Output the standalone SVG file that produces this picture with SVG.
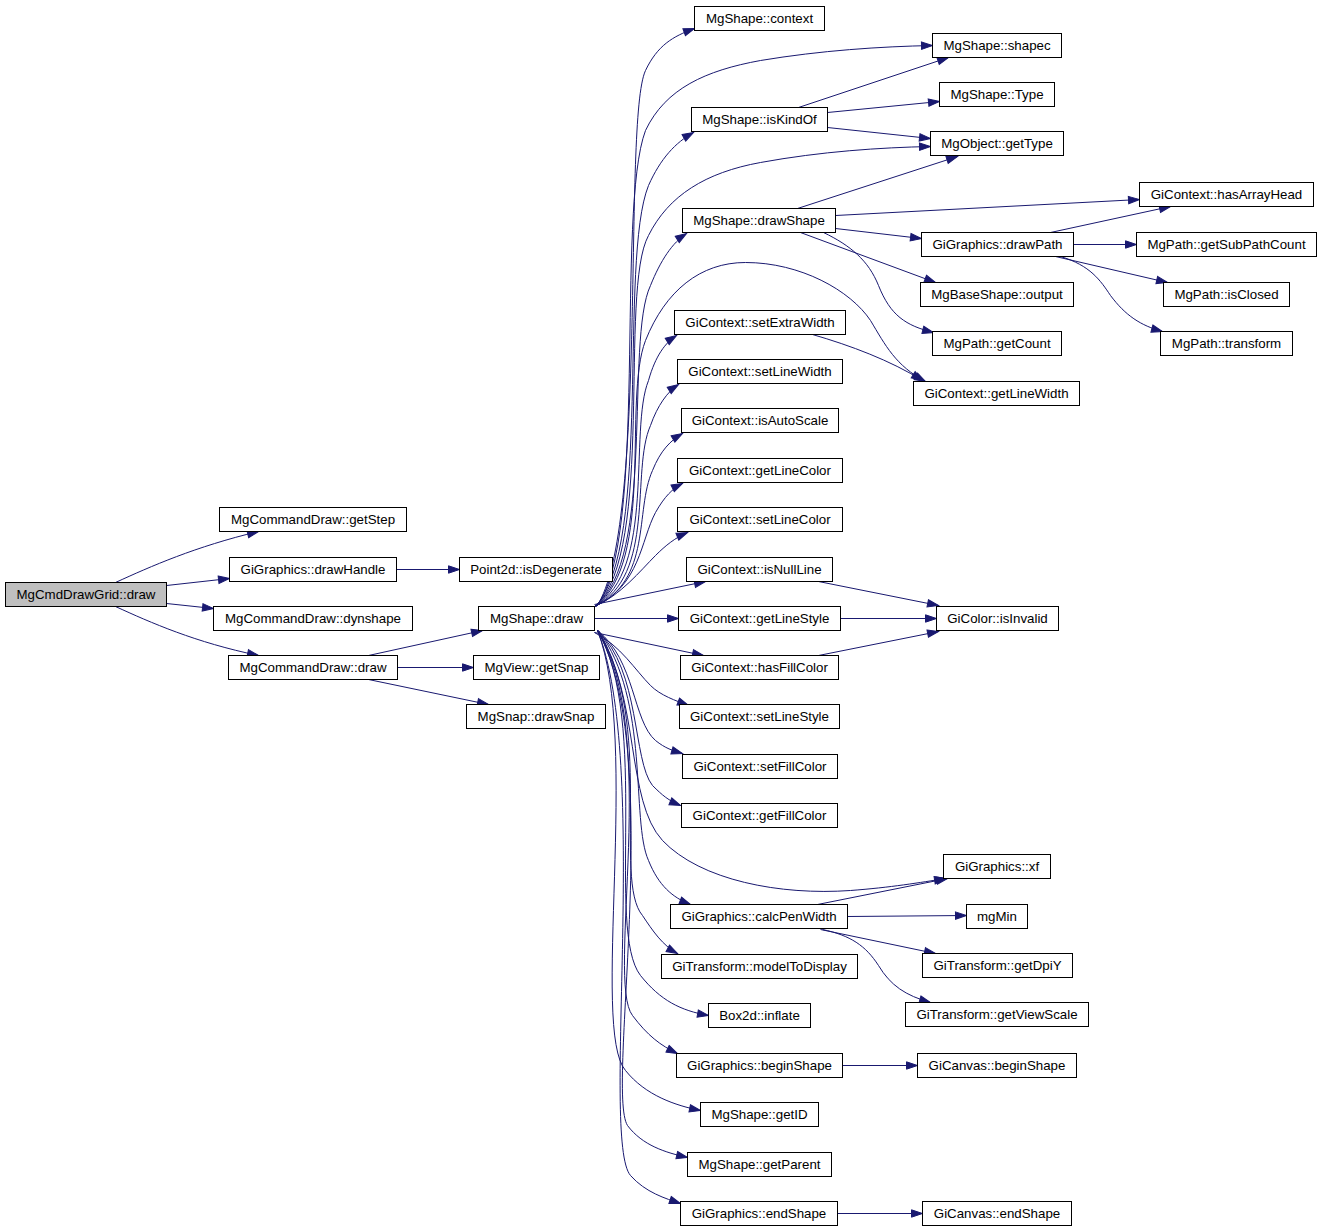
<svg xmlns="http://www.w3.org/2000/svg" width="1322" height="1231" viewBox="0 0 1322 1231">
<style>
.n rect{fill:#ffffff;stroke:#000000;stroke-width:1}
.n text{font-family:"Liberation Sans",Arial,Helvetica,sans-serif;font-size:13.3px;text-anchor:middle;fill:#000000}
#n0 rect{fill:#bfbfbf}
.e path{fill:none;stroke:#191970;stroke-width:1;marker-end:url(#a)}
</style>
<defs>
<marker id="a" markerUnits="userSpaceOnUse" viewBox="0 0 11 8" markerWidth="11" markerHeight="8" refX="11" refY="4" orient="auto" overflow="visible">
<path d="M0,0.3 L11,4 L0,7.7 Z" fill="#191970" stroke="#191970" stroke-width="1"/>
</marker>
</defs>
<rect width="1322" height="1231" fill="#ffffff"/>
<g transform="translate(0.5,0.5)">
<g id="edges" class="e">
<path d="M115,582 C150,566 195,546 258,531"/>
<path d="M166,585 L229,578"/>
<path d="M166,603 L213,608"/>
<path d="M115,606 C150,622 195,642 258,655"/>
<path d="M396,569 L459,569"/>
<path d="M368,655 L482,630"/>
<path d="M397,667 L473,667"/>
<path d="M368,679 L488,704"/>
<path d="M596,606 C648,530 622,120 645,70 C657,45 672,36 694,28"/>
<path d="M596,606 C648,540 615,210 645,130 C665,88 705,70 760,60 C820,50 880,46 932,45"/>
<path d="M595,606 C652,545 618,260 648,185 C660,158 675,142 693,132"/>
<path d="M595,606 C655,550 618,290 648,235 C668,195 705,172 760,162 C820,151 880,147 930,146"/>
<path d="M594,606 C656,560 624,340 650,285 C660,260 672,242 686,233"/>
<path d="M595,606 C655,560 622,400 645,340 C665,290 700,262 745,262 C800,262 850,290 870,320 C885,345 895,365 925,381"/>
<path d="M594,606 C656,570 628,430 648,380 C655,355 665,342 676,335"/>
<path d="M594,606 C656,575 630,470 650,425 C657,405 667,391 678,384"/>
<path d="M594,606 C652,580 634,510 652,470 C660,450 670,440 682,433"/>
<path d="M594,606 C640,585 640,540 655,512 C664,496 672,488 682,483"/>
<path d="M594,606 C620,595 640,570 655,555 C665,545 675,537 687,532"/>
<path d="M594,604 L705,581"/>
<path d="M594,618 L678,618"/>
<path d="M594,632 L703,655"/>
<path d="M594,632 C620,645 635,670 650,685 C660,695 675,700 688,705"/>
<path d="M597,630 C635,660 632,720 655,740 C665,748 672,750 682,753"/>
<path d="M597,630 C640,670 632,760 652,785 C662,795 668,800 680,805"/>
<path d="M598,630 C640,700 625,800 662,840 C700,880 780,895 850,890 C890,887 920,882 945,878"/>
<path d="M598,630 C650,700 630,820 648,860 C658,885 672,897 690,904"/>
<path d="M597,630 C655,720 612,880 642,915 C652,930 662,945 677,953"/>
<path d="M597,630 C650,720 605,930 640,975 C660,1000 680,1010 708,1015"/>
<path d="M597,630 C660,730 605,980 632,1015 C647,1035 660,1045 677,1053"/>
<path d="M597,630 C640,740 590,1030 625,1070 C645,1095 675,1105 700,1110"/>
<path d="M597,630 C665,750 605,1090 627,1125 C642,1145 665,1152 687,1157"/>
<path d="M597,630 C650,760 600,1140 630,1175 C645,1192 665,1198 680,1203"/>
<path d="M798,107 L948,57"/>
<path d="M827,112 L939,101"/>
<path d="M827,127 L930,138"/>
<path d="M797,208 L957,156"/>
<path d="M835,215 L1139,199"/>
<path d="M835,228 L921,238"/>
<path d="M800,232 L935,282"/>
<path d="M823,232 C850,245 868,260 878,285 C890,315 905,325 933,332"/>
<path d="M1050,232 L1170,206"/>
<path d="M1073,244 L1136,244"/>
<path d="M1055,256 L1167,282"/>
<path d="M1060,256 C1090,265 1100,280 1110,295 C1125,315 1140,325 1162,331"/>
<path d="M812,334 C850,345 890,360 922,380"/>
<path d="M818,581 L938,605"/>
<path d="M840,618 L936,618"/>
<path d="M818,655 L938,631"/>
<path d="M817,904 L947,878"/>
<path d="M847,916 L966,915"/>
<path d="M820,929 L935,953"/>
<path d="M822,929 C850,935 865,945 878,965 C890,985 905,995 930,1002"/>
<path d="M842,1065 L917,1065"/>
<path d="M837,1213 L922,1213"/>
</g>
<g id="n0" class="n"><rect x="5" y="582" width="161" height="24"/><text x="85.5" y="598.5">MgCmdDrawGrid::draw</text></g>
<g id="n1" class="n"><rect x="219" y="507" width="187" height="24"/><text x="312.5" y="523.5">MgCommandDraw::getStep</text></g>
<g id="n2" class="n"><rect x="229" y="557" width="167" height="24"/><text x="312.5" y="573.5">GiGraphics::drawHandle</text></g>
<g id="n3" class="n"><rect x="213" y="606" width="199" height="24"/><text x="312.5" y="622.5">MgCommandDraw::dynshape</text></g>
<g id="n4" class="n"><rect x="228" y="655" width="169" height="24"/><text x="312.5" y="671.5">MgCommandDraw::draw</text></g>
<g id="n5" class="n"><rect x="459" y="557" width="153" height="24"/><text x="535.5" y="573.5">Point2d::isDegenerate</text></g>
<g id="n6" class="n"><rect x="478" y="606" width="116" height="24"/><text x="536" y="622.5">MgShape::draw</text></g>
<g id="n7" class="n"><rect x="473" y="655" width="126" height="24"/><text x="536" y="671.5">MgView::getSnap</text></g>
<g id="n8" class="n"><rect x="466" y="704" width="139" height="24"/><text x="535.5" y="720.5">MgSnap::drawSnap</text></g>
<g id="n9" class="n"><rect x="694" y="6" width="130" height="24"/><text x="759" y="22.5">MgShape::context</text></g>
<g id="n10" class="n"><rect x="932" y="33" width="129" height="24"/><text x="996.5" y="49.5">MgShape::shapec</text></g>
<g id="n11" class="n"><rect x="939" y="82" width="115" height="24"/><text x="996.5" y="98.5">MgShape::Type</text></g>
<g id="n12" class="n"><rect x="691" y="107" width="136" height="24"/><text x="759" y="123.5">MgShape::isKindOf</text></g>
<g id="n13" class="n"><rect x="930" y="131" width="133" height="24"/><text x="996.5" y="147.5">MgObject::getType</text></g>
<g id="n14" class="n"><rect x="682" y="208" width="153" height="24"/><text x="758.5" y="224.5">MgShape::drawShape</text></g>
<g id="n15" class="n"><rect x="1139" y="182" width="174" height="24"/><text x="1226" y="198.5">GiContext::hasArrayHead</text></g>
<g id="n16" class="n"><rect x="921" y="232" width="152" height="24"/><text x="997" y="248.5">GiGraphics::drawPath</text></g>
<g id="n17" class="n"><rect x="1136" y="232" width="180" height="24"/><text x="1226" y="248.5">MgPath::getSubPathCount</text></g>
<g id="n18" class="n"><rect x="920" y="282" width="153" height="24"/><text x="996.5" y="298.5">MgBaseShape::output</text></g>
<g id="n19" class="n"><rect x="1163" y="282" width="126" height="24"/><text x="1226" y="298.5">MgPath::isClosed</text></g>
<g id="n20" class="n"><rect x="932" y="331" width="129" height="24"/><text x="996.5" y="347.5">MgPath::getCount</text></g>
<g id="n21" class="n"><rect x="1160" y="331" width="132" height="24"/><text x="1226" y="347.5">MgPath::transform</text></g>
<g id="n22" class="n"><rect x="674" y="310" width="171" height="24"/><text x="759.5" y="326.5">GiContext::setExtraWidth</text></g>
<g id="n23" class="n"><rect x="913" y="381" width="166" height="24"/><text x="996" y="397.5">GiContext::getLineWidth</text></g>
<g id="n24" class="n"><rect x="677" y="359" width="165" height="24"/><text x="759.5" y="375.5">GiContext::setLineWidth</text></g>
<g id="n25" class="n"><rect x="681" y="408" width="157" height="24"/><text x="759.5" y="424.5">GiContext::isAutoScale</text></g>
<g id="n26" class="n"><rect x="677" y="458" width="165" height="24"/><text x="759.5" y="474.5">GiContext::getLineColor</text></g>
<g id="n27" class="n"><rect x="677" y="507" width="165" height="24"/><text x="759.5" y="523.5">GiContext::setLineColor</text></g>
<g id="n28" class="n"><rect x="686" y="557" width="146" height="24"/><text x="759" y="573.5">GiContext::isNullLine</text></g>
<g id="n29" class="n"><rect x="678" y="606" width="162" height="24"/><text x="759" y="622.5">GiContext::getLineStyle</text></g>
<g id="n30" class="n"><rect x="936" y="606" width="122" height="24"/><text x="997" y="622.5">GiColor::isInvalid</text></g>
<g id="n31" class="n"><rect x="680" y="655" width="158" height="24"/><text x="759" y="671.5">GiContext::hasFillColor</text></g>
<g id="n32" class="n"><rect x="679" y="704" width="160" height="24"/><text x="759" y="720.5">GiContext::setLineStyle</text></g>
<g id="n33" class="n"><rect x="682" y="754" width="155" height="24"/><text x="759.5" y="770.5">GiContext::setFillColor</text></g>
<g id="n34" class="n"><rect x="681" y="803" width="156" height="24"/><text x="759" y="819.5">GiContext::getFillColor</text></g>
<g id="n35" class="n"><rect x="943" y="854" width="107" height="24"/><text x="996.5" y="870.5">GiGraphics::xf</text></g>
<g id="n36" class="n"><rect x="670" y="904" width="177" height="24"/><text x="758.5" y="920.5">GiGraphics::calcPenWidth</text></g>
<g id="n37" class="n"><rect x="966" y="904" width="61" height="24"/><text x="996.5" y="920.5">mgMin</text></g>
<g id="n38" class="n"><rect x="661" y="954" width="196" height="24"/><text x="759" y="970.5">GiTransform::modelToDisplay</text></g>
<g id="n39" class="n"><rect x="922" y="953" width="150" height="24"/><text x="997" y="969.5">GiTransform::getDpiY</text></g>
<g id="n40" class="n"><rect x="708" y="1003" width="102" height="24"/><text x="759" y="1019.5">Box2d::inflate</text></g>
<g id="n41" class="n"><rect x="905" y="1002" width="183" height="24"/><text x="996.5" y="1018.5">GiTransform::getViewScale</text></g>
<g id="n42" class="n"><rect x="676" y="1053" width="166" height="24"/><text x="759" y="1069.5">GiGraphics::beginShape</text></g>
<g id="n43" class="n"><rect x="917" y="1053" width="159" height="24"/><text x="996.5" y="1069.5">GiCanvas::beginShape</text></g>
<g id="n44" class="n"><rect x="700" y="1102" width="118" height="24"/><text x="759" y="1118.5">MgShape::getID</text></g>
<g id="n45" class="n"><rect x="687" y="1152" width="144" height="24"/><text x="759" y="1168.5">MgShape::getParent</text></g>
<g id="n46" class="n"><rect x="680" y="1201" width="157" height="24"/><text x="758.5" y="1217.5">GiGraphics::endShape</text></g>
<g id="n47" class="n"><rect x="922" y="1201" width="149" height="24"/><text x="996.5" y="1217.5">GiCanvas::endShape</text></g>
</g>
</svg>
